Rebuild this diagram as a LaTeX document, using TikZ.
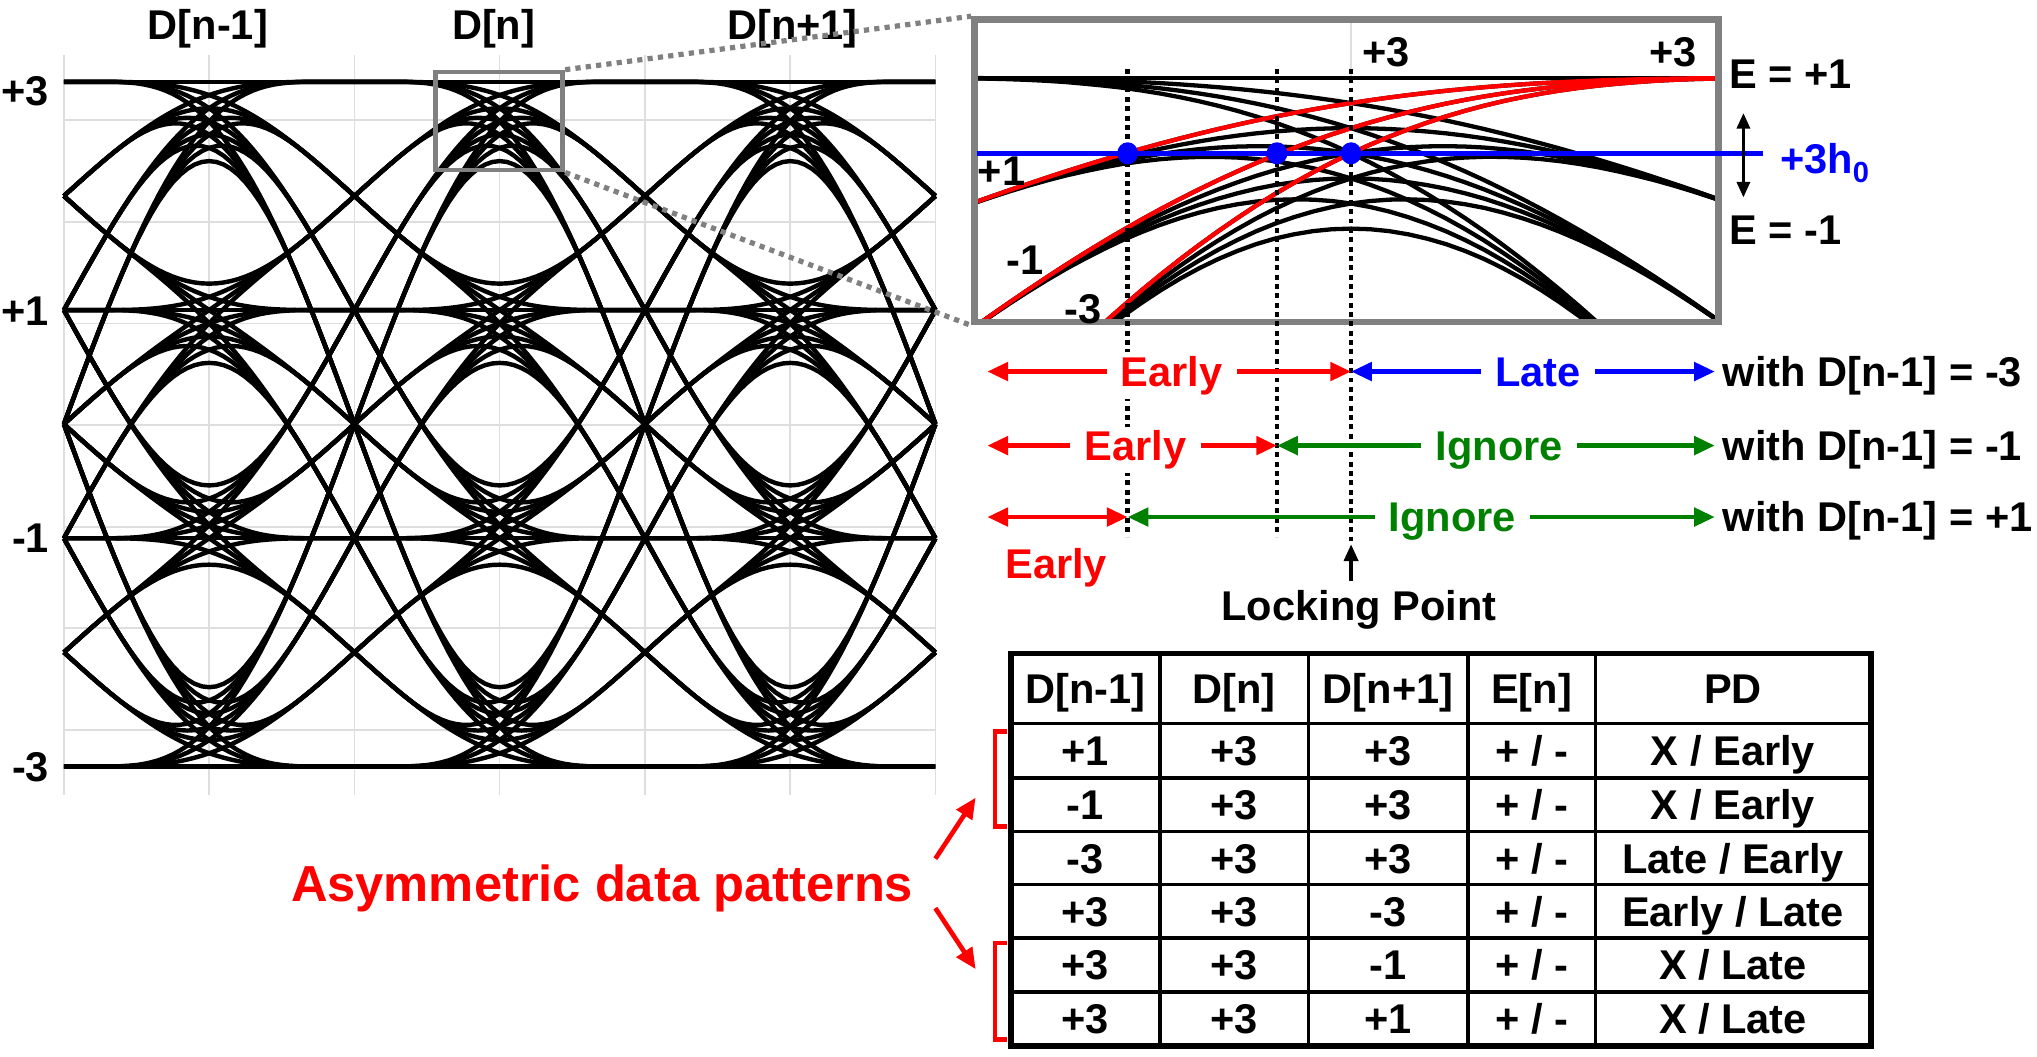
\documentclass[tikz,border=0pt]{standalone}
\usepackage{fontspec}
\setmainfont{Liberation Sans}
\usetikzlibrary{arrows.meta,shapes.geometric}
\definecolor{pred}{RGB}{255,0,0}
\definecolor{pblue}{RGB}{0,0,255}
\definecolor{pgreen}{RGB}{0,128,0}
\definecolor{boxgray}{RGB}{128,128,128}
\definecolor{gridgray}{RGB}{222,222,222}
\newcommand\tabrow[6]{%
  \node[cell] (r#1c1) at (835.5,#2) {#3};
  \node[cell] (r#1c2) at (950,#2) {+3};
  \node[cell] (r#1c3) at (1068.5,#2) {#4};
  \node[cell] (r#1c4) at (1179,#2) {+ / -};
  \node[cell] (r#1c5) at (1334,#2) {#5 / #6};
}
% pulse step samples: A = Q(t+0.5), B = Q(t-0.5), Q = smoothed step, half-width 0.87 UI
\newcommand\mksamples[3]{% #1 prefix, #2 t start, #3 t step
  \foreach \i in {0,...,40}{%
    \pgfmathsetmacro\tv{#2+#3*\i}%
    \pgfmathsetmacro\sa{max(-0.87,min(0.87,\tv+0.5))}%
    \pgfmathsetmacro\sb{max(-0.87,min(0.87,\tv-0.5))}%
    \pgfmathsetmacro\Av{(\sa+0.87)/1.74+sin(180*\sa/0.87)/(2*pi)}%
    \pgfmathsetmacro\Bv{(\sb+0.87)/1.74+sin(180*\sb/0.87)/(2*pi)}%
    \expandafter\xdef\csname #1A\i\endcsname{\Av}%
    \expandafter\xdef\csname #1B\i\endcsname{\Bv}%
    \expandafter\xdef\csname #1T\i\endcsname{\tv}%
  }%
}
% build one trajectory: #1 prefix, #2 #3 #4 symbols, #5 x0, #6 xscale, #7 y0, #8 yscale
\newcommand\mkpath[8]{%
  \gdef\tmppath{}%
  \foreach \i in {0,...,40}{%
    \edef\curA{\csname #1A\i\endcsname}%
    \edef\curB{\csname #1B\i\endcsname}%
    \edef\curT{\csname #1T\i\endcsname}%
    \pgfmathsetmacro\xx{#5+#6*\curT}%
    \pgfmathsetmacro\yy{#7-#8*((#2)*(1-\curA)+(#3)*(\curA-\curB)+(#4)*\curB)}%
    \ifnum\i=0 \xdef\tmppath{(\xx,\yy)}\else\xdef\tmppath{\tmppath -- (\xx,\yy)}\fi
  }%
}
\begin{document}
\begin{tikzpicture}[x=1pt,y=-1pt,
  lab/.style={font=\fontsize{32}{38}\selectfont\bfseries, inner sep=0pt},
  cell/.style={lab, anchor=base},
  onarrow/.style={lab, fill=white, inner xsep=11pt, inner ysep=3pt, anchor=base},
  eyeline/.style={line width=3.4pt, line join=round},
  insetline/.style={line width=3.3pt, line join=round},
  gridline/.style={draw=gridgray, line width=1.3pt},
  connector/.style={draw=boxgray, line width=4pt, dash pattern=on 4pt off 4pt},
  vdots/.style={draw=black, line width=3.3pt, dash pattern=on 3.8pt off 3.4pt},
  harrow/.style={line width=3.6pt, {Triangle[length=16pt,width=14pt]}-{Triangle[length=16pt,width=14pt]}},
  thinarrow/.style={line width=2.6pt, -{Triangle[length=13pt,width=11pt]}},
  bdot/.style={ellipse, fill=pblue, minimum width=16pt, minimum height=17pt, inner sep=0pt},
  tline/.style={line width=2.6pt},
]
\useasboundingbox (0,0) rectangle (1568,813);

% ---------- grid of the eye plot
\foreach \k in {0,...,6} \draw[gridline] ({49.2+111.8*\k},42) -- ({49.2+111.8*\k},612);
\foreach \k in {-3,...,3} \draw[gridline] (49.2,{327.2+78.2*\k}) -- (720,{327.2+78.2*\k});

% ---------- eye diagram
\mksamples{ey}{-0.5}{0.025}
\foreach \dA in {-3,-1,1,3}{
  \foreach \dB in {-3,-1,1,3}{
    \foreach \dC in {-3,-1,1,3}{
      \mkpath{ey}{\dA}{\dB}{\dC}{0}{223.65}{326.5}{87.83}
      \foreach \xc in {161,384.65,608.3}{
        \begin{scope}[xshift=\xc]
          \draw[eyeline] \tmppath;
        \end{scope}
      }
}}}

% ---------- axis labels and titles
\node[lab, anchor=base east] (lp3) at (38,81.5) {+3};
\node[lab, anchor=base east] (lp1) at (38,250.5) {+1};
\node[lab, anchor=base east] (lm1) at (38,425.5) {-1};
\node[lab, anchor=base east] (lm3) at (38,601.5) {-3};
\node[lab, anchor=base] (tprev) at (160,30.5) {D[n-1]};
\node[lab, anchor=base] (tcur) at (380,30.5) {D[n]};
\node[lab, anchor=base] (tnext) at (610,30.5) {D[n+1]};

% ---------- zoom box
\node[draw=boxgray, line width=3.6pt, minimum width=98pt, minimum height=75.5pt, inner sep=0pt] (zbox) at (384.2,93.2) {};

% ---------- inset content
\mksamples{in}{-0.31}{0.0155}
\begin{scope}
  \clip (752,17) rectangle (1321,246);
  \draw[gridgray, line width=1.5pt] (1040,17) -- (1040,60);
  \foreach \dA in {-3,-1,1,3}{
    \foreach \dC in {-3,-1,1,3}{
      \mkpath{in}{\dA}{3}{\dC}{1040}{944}{561}{167}
      \draw[insetline] \tmppath;
  }}
  \foreach \dA in {1,-1,-3}{
    \mkpath{in}{\dA}{3}{3}{1040}{944}{561}{167}
    \draw[insetline, pred] \tmppath;
  }
\end{scope}
\node[draw=boxgray, line width=5pt, minimum width=573pt, minimum height=233pt, inner sep=0pt] (inset) at (1036.5,131.5) {};
\draw[connector] (zbox.north east) -- (inset.north west);
\draw[connector] (zbox.south east) -- (inset.south west);

% threshold line
\coordinate (thl) at (752,118);
\coordinate (thr) at (1357,118);
\draw[pblue, line width=3.9pt] (thl) -- (thr);

% dotted sampling lines
\coordinate (v1t) at (868,53);  \coordinate (v1b) at (868,413);
\coordinate (v2t) at (983,53);  \coordinate (v2b) at (983,413);
\coordinate (v3t) at (1040,53); \coordinate (v3b) at (1040,417);
\draw[vdots] (v1t) -- (v1b);
\draw[vdots] (v2t) -- (v2b);
\draw[vdots] (v3t) -- (v3b);

\node[bdot] (d1) at (868,118) {};
\node[bdot] (d2) at (983,118) {};
\node[bdot] (d3) at (1040,118) {};

% inset labels
\node[lab, anchor=base] (i3a) at (1067,51.5) {+3};
\node[lab, anchor=base] (i3b) at (1288,51.5) {+3};
\node[lab, anchor=base] (ip1) at (771,142.5) {+1};
\node[lab, anchor=base] (im1) at (789,211.5) {-1};
\node[lab, anchor=base] (im3) at (834,249) {-3};
\node[lab, anchor=base west] (ep1) at (1331,68.5) {E = +1};
\node[lab, anchor=base west] (em1) at (1331,188) {E = -1};
\node[lab, anchor=base west, text=pblue] (h0) at (1370,133.5) {+3h\textsubscript{0}};
\coordinate (eat) at (1342,87);
\coordinate (eab) at (1342,152);
\draw[line width=2.6pt, {Triangle[length=12pt,width=10pt]}-{Triangle[length=12pt,width=10pt]}] (eat) -- (eab);

% ---------- early / late rows
\coordinate (a1l) at (760,286); \coordinate (a1m) at (1040,286); \coordinate (a1r) at (1320,286);
\coordinate (a2l) at (760,343); \coordinate (a2m) at (983,343);  \coordinate (a2r) at (1320,343);
\coordinate (a3l) at (760,398); \coordinate (a3m) at (868,398);  \coordinate (a3r) at (1320,398);
\draw[harrow, pred] (a1l) -- (a1m);
\draw[harrow, pblue] (a1m) -- (a1r);
\draw[harrow, pred] (a2l) -- (a2m);
\draw[harrow, pgreen] (a2m) -- (a2r);
\draw[harrow, pred] (a3l) -- (a3m);
\draw[harrow, pgreen] (a3m) -- (a3r);
\node[onarrow, text=pred] (e1) at (902,297.5) {Early};
\node[onarrow, text=pblue] (l1) at (1184,297.5) {Late};
\node[onarrow, text=pred] (e2) at (874,354.5) {Early};
\node[onarrow, text=pgreen] (g2) at (1154,354.5) {Ignore};
\node[onarrow, text=pgreen] (g3) at (1118,409.5) {Ignore};
\node[lab, anchor=base, text=pred] (e3) at (813,445.5) {Early};
\node[lab, anchor=base west] (w1) at (1326,297.5) {with D[n-1] = -3};
\node[lab, anchor=base west] (w2) at (1326,354.5) {with D[n-1] = -1};
\node[lab, anchor=base west] (w3) at (1326,409.5) {with D[n-1] = +1};
\coordinate (lkb) at (1040,447);
\coordinate (lkt) at (1040,419);
\draw[thinarrow] (lkb) -- (lkt);
\node[lab, anchor=base] (lock) at (1046,477.5) {Locking Point};

% ---------- table
\draw[tline] (778,557) -- (1440,557);
\foreach \yy in {599,640,681,722,763.5} \draw[tline] (778,\yy) -- (1440,\yy);
\foreach \xx in {893,1007,1130,1228} \draw[tline] (\xx,503) -- (\xx,805);
\draw[line width=4.5pt] (778,503) rectangle (1440,805);
\node[cell] (h1) at (835.5,541.5) {D[n-1]};
\node[cell] (h2) at (950,541.5) {D[n]};
\node[cell] (h3) at (1068.5,541.5) {D[n+1]};
\node[cell] (h4) at (1179,541.5) {E[n]};
\node[cell] (h5) at (1334,541.5) {PD};
\tabrow{1}{589.5}{+1}{+3}{X}{Early}
\tabrow{2}{631}{-1}{+3}{X}{Early}
\tabrow{3}{672}{-3}{+3}{Late}{Early}
\tabrow{4}{713}{+3}{-3}{Early}{Late}
\tabrow{5}{754}{+3}{-1}{X}{Late}
\tabrow{6}{795.5}{+3}{+1}{X}{Late}

% ---------- asymmetric patterns annotation
\node[font=\fontsize{39}{46}\selectfont\bfseries, text=pred, inner sep=0pt, anchor=base] (asym) at (463.5,694) {Asymmetric data patterns};
\draw[pred, line width=3.6pt, line join=miter] (775,563) -- (766,563) -- (766,636) -- (775,636);
\draw[pred, line width=3.6pt, line join=miter] (775,726) -- (766,726) -- (766,800) -- (775,800);
\coordinate (as1) at (720,661);
\coordinate (as2) at (720,699);
\coordinate (br1) at (751,614);
\coordinate (br2) at (751,746);
\draw[pred, line width=3.6pt, -{Triangle[length=16pt,width=14pt]}] (as1) -- (br1);
\draw[pred, line width=3.6pt, -{Triangle[length=16pt,width=14pt]}] (as2) -- (br2);
\end{tikzpicture}
\end{document}
